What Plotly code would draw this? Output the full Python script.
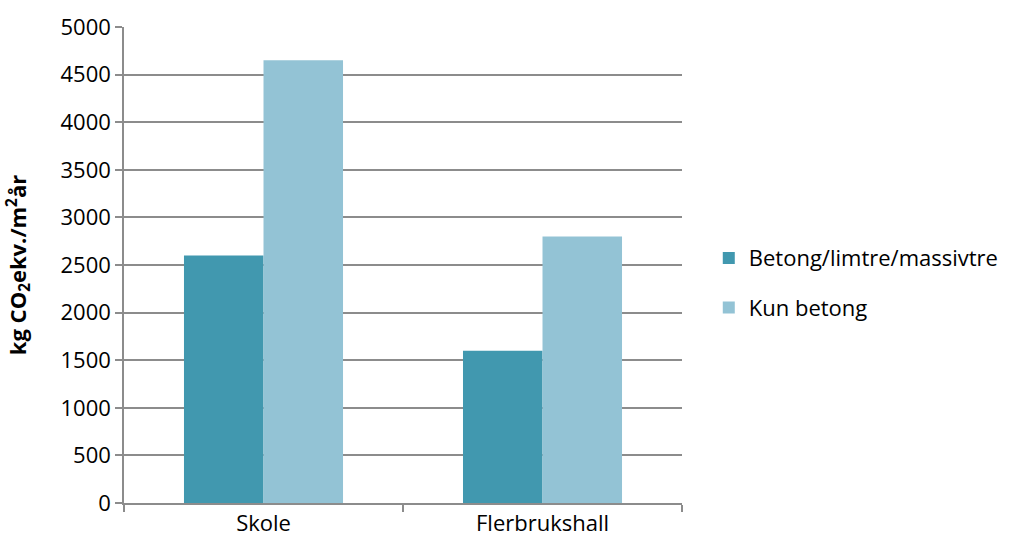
import plotly.graph_objects as go

categories = ["Skole", "Flerbrukshall"]
series_names = ["Betong/limtre/massivtre", "Kun betong"]
betong_limtre = [2600, 1600]
kun_betong = [4650, 2800]
y_ticks = [0, 500, 1000, 1500, 2000, 2500, 3000, 3500, 4000, 4500, 5000]

colors = ["#4198AF", "#93C3D5"]
axis_grey = "#8C8C8C"
font_family = "Open Sans, Noto Sans, sans-serif"

fig = go.Figure()
for name, vals, col, grp in zip(series_names, [betong_limtre, kun_betong], colors, ["a", "b"]):
    fig.add_trace(go.Bar(
        x=categories, y=vals, name=name, marker_color=col,
        marker_line_width=0, legendgroup=grp,
    ))

fig.update_layout(
    width=1012, height=547,
    margin=dict(l=124, r=330, t=27, b=44, autoexpand=False),
    paper_bgcolor="white", plot_bgcolor="white",
    barmode="group", bargap=0.43, bargroupgap=0,
    font=dict(family=font_family, size=22, color="#000000"),
    legend=dict(
        x=1.048, y=0.462, xanchor="left", yanchor="middle",
        font=dict(size=22, color="#000000"),
        traceorder="grouped", tracegroupgap=18,
        itemwidth=30,
    ),
    showlegend=True,
)

fig.update_yaxes(
    range=[0, 5000], tickvals=y_ticks,
    showgrid=True, gridcolor=axis_grey, gridwidth=1.5,
    showline=True, linecolor=axis_grey, linewidth=1.5,
    ticks="outside", ticklen=7, tickcolor=axis_grey, tickwidth=1.5,
    tickfont=dict(size=22), zeroline=False,
    title=dict(
        text="<b>kg CO<sub>2</sub>ekv./m<sup>2</sup>år</b>",
        font=dict(size=22), standoff=28,
    ),
)
fig.update_xaxes(
    showline=True, linecolor=axis_grey, linewidth=1.5,
    ticks="outside", ticklen=7, tickcolor=axis_grey, tickwidth=1.5,
    tickson="boundaries", tickfont=dict(size=22),
    showgrid=False,
)

fig.write_html("out.html")
